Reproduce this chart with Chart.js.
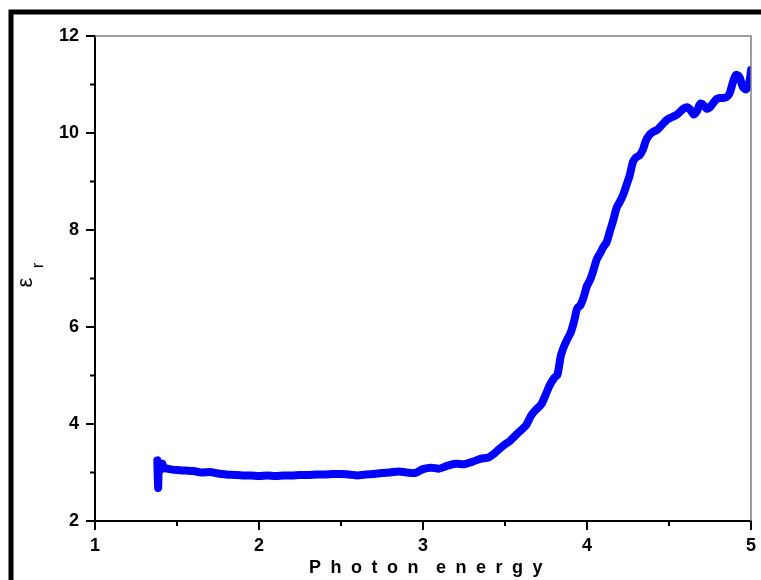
<!DOCTYPE html>
<html>
<head>
<meta charset="utf-8">
<script src="https://cdn.jsdelivr.net/npm/chart.js@4/dist/chart.umd.min.js"></script>
<style>
    body { margin: 0; background: #fff; }
    canvas { display: block; }
</style>
</head>
<body>
<canvas id="grafico" width="761" height="580"></canvas>
<script>
// Dados
const energia = [
    1.38, 1.385, 1.39, 1.40, 1.41, 1.42, 1.44, 1.47, 1.50, 1.55, 1.60, 1.65, 1.70, 1.75, 1.80, 1.85,
    1.90, 1.95, 2.00, 2.05, 2.10, 2.15, 2.20, 2.25, 2.30, 2.35, 2.40, 2.45, 2.50, 2.55, 2.60, 2.65,
    2.70, 2.75, 2.80, 2.85, 2.90, 2.95, 3.00, 3.05, 3.10, 3.15, 3.20, 3.25, 3.30, 3.35, 3.40, 3.43,
    3.46, 3.50, 3.53, 3.56, 3.60, 3.63, 3.66, 3.69, 3.72, 3.75, 3.77, 3.80, 3.82, 3.84, 3.86, 3.88,
    3.90, 3.92, 3.94, 3.96, 3.98, 4.00, 4.02, 4.04, 4.06, 4.08, 4.10, 4.12, 4.14, 4.16, 4.18, 4.20,
    4.22, 4.24, 4.26, 4.28, 4.30, 4.32, 4.34, 4.36, 4.38, 4.40, 4.43, 4.46, 4.49, 4.52, 4.55, 4.58,
    4.61, 4.63, 4.65, 4.67, 4.69, 4.71, 4.73, 4.75, 4.77, 4.79, 4.81, 4.83, 4.85, 4.87, 4.89, 4.91,
    4.93, 4.95, 4.97, 4.99, 5.00
];
const epsilonR = [
    3.25, 2.68, 3.15, 3.05, 3.18, 3.10, 3.08, 3.06, 3.05, 3.04, 3.03, 3.00, 3.01, 2.98, 2.96, 2.95,
    2.94, 2.94, 2.93, 2.94, 2.93, 2.94, 2.94, 2.95, 2.95, 2.96, 2.96, 2.97, 2.97, 2.96, 2.94, 2.96,
    2.97, 2.99, 3.00, 3.02, 3.00, 2.99, 3.07, 3.10, 3.08, 3.14, 3.18, 3.17, 3.22, 3.28, 3.31, 3.38,
    3.47, 3.58, 3.65, 3.75, 3.88, 3.98, 4.18, 4.30, 4.40, 4.62, 4.78, 4.95, 5.02, 5.40, 5.60, 5.75,
    5.88, 6.10, 6.38, 6.45, 6.62, 6.85, 6.98, 7.18, 7.40, 7.52, 7.65, 7.75, 7.98, 8.20, 8.45, 8.58,
    8.72, 8.92, 9.12, 9.40, 9.50, 9.54, 9.65, 9.85, 9.96, 10.02, 10.07, 10.18, 10.28, 10.33, 10.38, 10.48,
    10.53, 10.48, 10.38, 10.45, 10.60, 10.58, 10.50, 10.53, 10.62, 10.70, 10.72, 10.72, 10.74, 10.82, 11.05, 11.20,
    11.15, 10.95, 10.90, 11.05, 11.30
];
const ticksMenoresX = [1.5, 2.5, 3.5, 4.5];
const ticksMenoresY = [3, 5, 7, 9, 11];
const palavrasTituloX = ['Photon', 'energy'];

const FONTE = '"Liberation Sans", Arial, sans-serif';

// moldura, bordas cinza, ticks menores e títulos dos eixos
const decoracao = {
    id: 'decoracao',
    afterDraw(chart) {
        const { ctx, chartArea: a, scales: { x, y } } = chart;
        ctx.save();

        ctx.strokeStyle = '#000';
        ctx.lineWidth = 5;
        ctx.strokeRect(11, 12, 900, 700);

        ctx.strokeStyle = '#808080';
        ctx.lineWidth = 1.5;
        ctx.beginPath();
        ctx.moveTo(a.left, a.top);
        ctx.lineTo(a.right, a.top);
        ctx.lineTo(a.right, a.bottom);
        ctx.stroke();

        ctx.strokeStyle = '#000';
        ctx.lineWidth = 2;
        ctx.beginPath();
        ticksMenoresX.forEach(v => {
            const px = x.getPixelForValue(v);
            ctx.moveTo(px, a.bottom);
            ctx.lineTo(px, a.bottom + 5);
        });
        ticksMenoresY.forEach(v => {
            const py = y.getPixelForValue(v);
            ctx.moveTo(a.left, py);
            ctx.lineTo(a.left - 5, py);
        });
        ctx.stroke();

        // título do eixo x, com espaçamento largo entre letras
        ctx.fillStyle = '#000';
        ctx.font = 'bold 18px ' + FONTE;
        ctx.textAlign = 'left';
        ctx.textBaseline = 'alphabetic';
        ctx.letterSpacing = '9.5px';
        ctx.fillText(palavrasTituloX[0], 309, 573);
        ctx.fillText(palavrasTituloX[1], 436, 573);
        ctx.letterSpacing = '0px';

        // título do eixo y: ε com subscrito r
        ctx.translate(32, 282.5);
        ctx.rotate(-Math.PI / 2);
        ctx.textAlign = 'center';
        ctx.font = '22px ' + FONTE;
        ctx.fillText('ε', 0, 0);
        ctx.font = '17px ' + FONTE;
        ctx.fillText('r', 17, 11);
        ctx.restore();
    }
};

new Chart(document.getElementById('grafico').getContext('2d'), {
    type: 'line',
    data: {
        labels: energia,
        datasets: [{
            data: energia.map((e, i) => ({ x: e, y: epsilonR[i] })),
            borderColor: '#0000FF',
            borderWidth: 8,
            borderCapStyle: 'round',
            borderJoinStyle: 'round',
            pointRadius: 0,
            tension: 0.3,
            fill: false
        }]
    },
    options: {
        responsive: false,
        animation: false,
        layout: {
            padding: { top: 36, right: 9, left: 0, bottom: 0 }
        },
        plugins: {
            legend: { display: false },
            tooltip: { enabled: false }
        },
        scales: {
            x: {
                type: 'linear',
                min: 1,
                max: 5,
                afterFit: (s) => { s.height = 59; },
                ticks: {
                    stepSize: 1,
                    padding: 5,
                    color: '#000',
                    font: { family: FONTE, size: 18, weight: 'bold' }
                },
                grid: {
                    drawOnChartArea: false,
                    color: '#000',
                    lineWidth: 2,
                    tickLength: 9
                },
                border: { color: '#000', width: 2 }
            },
            y: {
                min: 2,
                max: 12,
                afterFit: (s) => { s.width = 95; },
                ticks: {
                    stepSize: 2,
                    padding: 7,
                    color: '#000',
                    font: { family: FONTE, size: 18, weight: 'bold' }
                },
                grid: {
                    drawOnChartArea: false,
                    color: '#000',
                    lineWidth: 2,
                    tickLength: 9
                },
                border: { color: '#000', width: 2 }
            }
        }
    },
    plugins: [decoracao]
});
</script>
</body>
</html>
